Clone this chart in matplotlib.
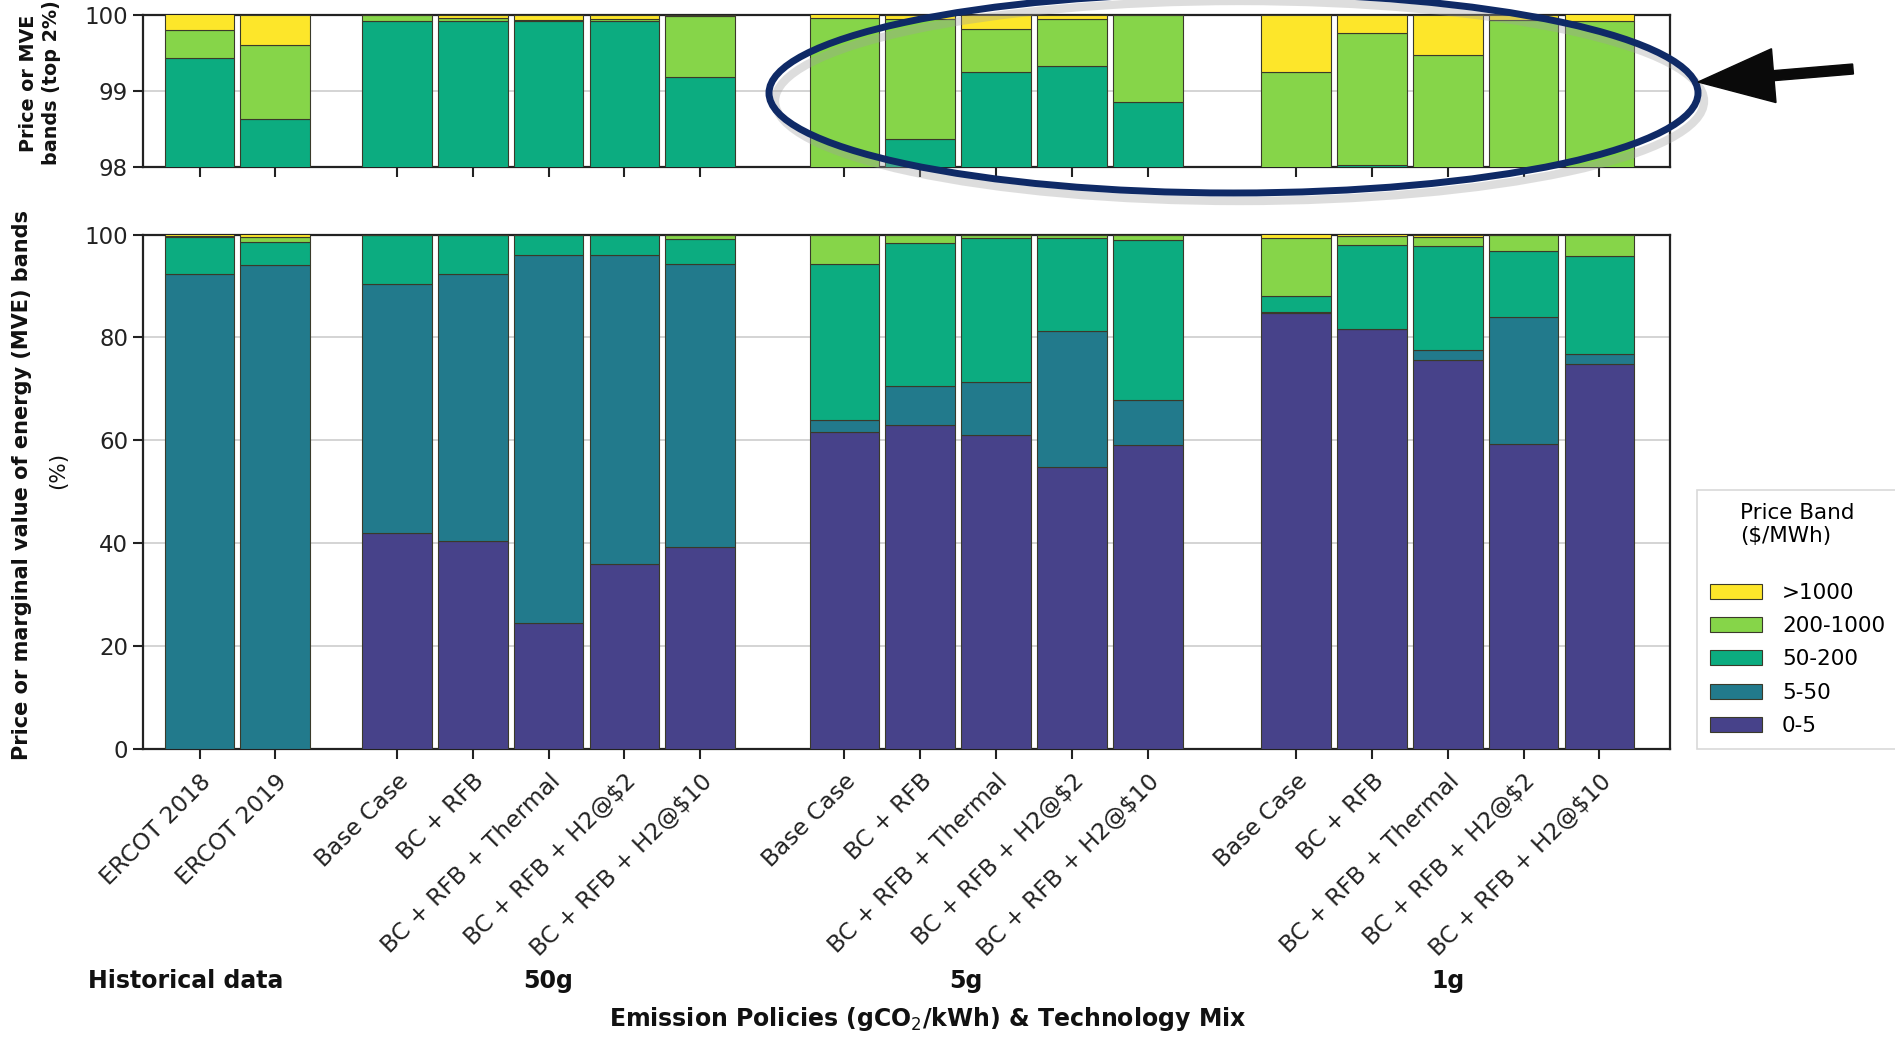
import numpy as np
import matplotlib
matplotlib.use("Agg")
import matplotlib.pyplot as plt
from matplotlib.patches import Ellipse, FancyArrow, Patch
from matplotlib.transforms import IdentityTransform, blended_transform_factory

# ---------------- data ----------------
scenarios = ["ERCOT 2018", "ERCOT 2019",
             "Base Case", "BC + RFB", "BC + RFB + Thermal", r"BC + RFB + H2@\$2", r"BC + RFB + H2@\$10",
             "Base Case", "BC + RFB", "BC + RFB + Thermal", r"BC + RFB + H2@\$2", r"BC + RFB + H2@\$10",
             "Base Case", "BC + RFB", "BC + RFB + Thermal", r"BC + RFB + H2@\$2", r"BC + RFB + H2@\$10"]
groups = ["Historical data", "50g", "5g", "1g"]
group_sizes = [2, 5, 5, 5]

band_labels = ["0-5", "5-50", "50-200", "200-1000", ">1000"]
band_0_5 = [0, 0, 41.9, 40.5, 24.4, 36.0, 39.2, 61.7, 63.0, 61.1, 54.9, 59.1, 84.7, 81.6, 75.6, 59.3, 74.8]
band_5_50 = [92.4, 94.1, 48.5, 51.9, 71.7, 60.1, 55.0, 2.3, 7.5, 10.3, 26.4, 8.8, 0.3, 0.1, 2.0, 24.6, 1.9]
band_50_200 = [7.03, 4.53, 9.52, 7.52, 3.81, 3.81, 4.98, 30.2, 27.87, 27.84, 18.02, 30.95, 3.1, 16.33, 20.1, 12.8, 19.1]
band_200_1000 = [0.37, 0.97, 0.08, 0.03, 0.02, 0.03, 0.80, 5.76, 1.57, 0.57, 0.62, 1.14, 11.15, 1.73, 1.77, 3.23, 4.11]
band_gt1000 = [0.20, 0.40, 0.0, 0.05, 0.07, 0.06, 0.02, 0.04, 0.06, 0.19, 0.06, 0.01, 0.75, 0.24, 0.53, 0.07, 0.09]

bands = [band_0_5, band_5_50, band_50_200, band_200_1000, band_gt1000]
colors = ["#47428a", "#227a8c", "#0cac80", "#86d549", "#fde62a"]

# ---------------- layout ----------------
group_offsets = [0.0, 2.6, 8.5, 14.45]
x = np.concatenate([off + np.arange(n) for off, n in zip(group_offsets, group_sizes)])
group_label_x = [-0.18, 4.6, 10.1, 16.45]
bar_w = 0.92

W, H = 1895, 1038
fig = plt.figure(figsize=(W / 100, H / 100), dpi=100)
ax_top = fig.add_axes([142.6 / W, 1 - 166.8 / H, (1670 - 142.6) / W, (166.8 - 14.5) / H])
ax_bot = fig.add_axes([142.6 / W, 1 - 749 / H, (1670 - 142.6) / W, (749 - 234.5) / H])

edge = "#3a3a2a"
for ax in (ax_top, ax_bot):
    bottom = np.zeros(len(x))
    for vals, col, lab in zip(bands, colors, band_labels):
        v = np.array(vals, dtype=float)
        ax.bar(x, v, bottom=bottom, width=bar_w, color=col, edgecolor=edge,
               linewidth=0.8, label=lab, zorder=3)
        bottom += v
    ax.set_xlim(-0.75, 19.38)
    ax.grid(axis="y", color="#d4d4d4", linewidth=1.4, zorder=0)
    ax.set_axisbelow(True)
    for s in ax.spines.values():
        s.set_linewidth(1.6)
        s.set_color("#222222")
    ax.tick_params(axis="both", direction="out", length=7, width=1.5, color="#222222",
                   labelsize=16.5, labelcolor="#222222")
    ax.set_xticks(x)

ax_top.set_ylim(98, 100)
ax_top.set_yticks([98, 99, 100])
ax_top.set_xticklabels([])

ax_bot.set_ylim(0, 100)
ax_bot.set_yticks([0, 20, 40, 60, 80, 100])
ax_bot.set_xticklabels(scenarios, rotation=45, ha="right", va="top",
                       rotation_mode="anchor", fontsize=16.8)
ax_bot.tick_params(axis="x", pad=8)

# y labels
fig.text(40 / W, 1 - 83 / H, "Price or MVE\nbands (top 2%)", rotation=90, ha="center",
         va="center", fontsize=13.8, fontweight="bold", linespacing=1.25, color="#111111")
fig.text(22 / W, 1 - 485 / H, "Price or marginal value of energy (MVE) bands", rotation=90,
         ha="center", va="center", fontsize=15, fontweight="bold", color="#111111")
fig.text(58 / W, 1 - 470 / H, "(%)", rotation=90, ha="center", va="center",
         fontsize=15.5, color="#111111")

# group labels + x label
trans = blended_transform_factory(ax_bot.transData, fig.transFigure)
for gx, g in zip(group_label_x, groups):
    ax_bot.text(gx, 1 - 981 / H, g, transform=trans, ha="center", va="center",
                fontsize=17, fontweight="bold", color="#111111")
fig.text(928 / W, 1 - 1019 / H, r"Emission Policies (gCO$_2$/kWh) & Technology Mix",
         ha="center", va="center", fontsize=17, fontweight="bold", color="#111111")

# legend
handles = [Patch(facecolor=c, edgecolor=edge, linewidth=0.8, label=l)
           for c, l in zip(colors[::-1], band_labels[::-1])]
leg = fig.legend(handles=handles, title="Price Band\n(\\$/MWh)\n", loc="lower left",
                 bbox_to_anchor=(1697 / W, 1 - 749 / H), fontsize=15.5, title_fontsize=15.5,
                 frameon=True, fancybox=False, edgecolor="#cfcfcf", handlelength=2.4,
                 handleheight=0.7, handletextpad=0.95, labelspacing=0.62, borderpad=0.6,
                 borderaxespad=0)
leg.get_frame().set_linewidth(1.2)

# annotation: ellipse with shadow + arrow (display pixels)
navy = "#0f2a66"
cx, cy, ew, eh = 1233.5, H - 93, 929, 200
shadow = Ellipse((cx + 6, cy - 8), ew, eh, fill=False, edgecolor="#a0a0a0", linewidth=6,
                 alpha=0.35, transform=IdentityTransform(), zorder=9)
ell = Ellipse((cx, cy), ew, eh, fill=False, edgecolor=navy, linewidth=5,
              transform=IdentityTransform(), zorder=10)
fig.add_artist(shadow)
fig.add_artist(ell)
tail = (1853, H - 69)
tip = (1698, H - 82)
arr = FancyArrow(tail[0], tail[1], tip[0] - tail[0], tip[1] - tail[1], width=10,
                 head_width=54, head_length=76, length_includes_head=True,
                 color="#0a0a0a", transform=IdentityTransform(), zorder=11)
fig.add_artist(arr)

fig.savefig("out.png", dpi=100)
